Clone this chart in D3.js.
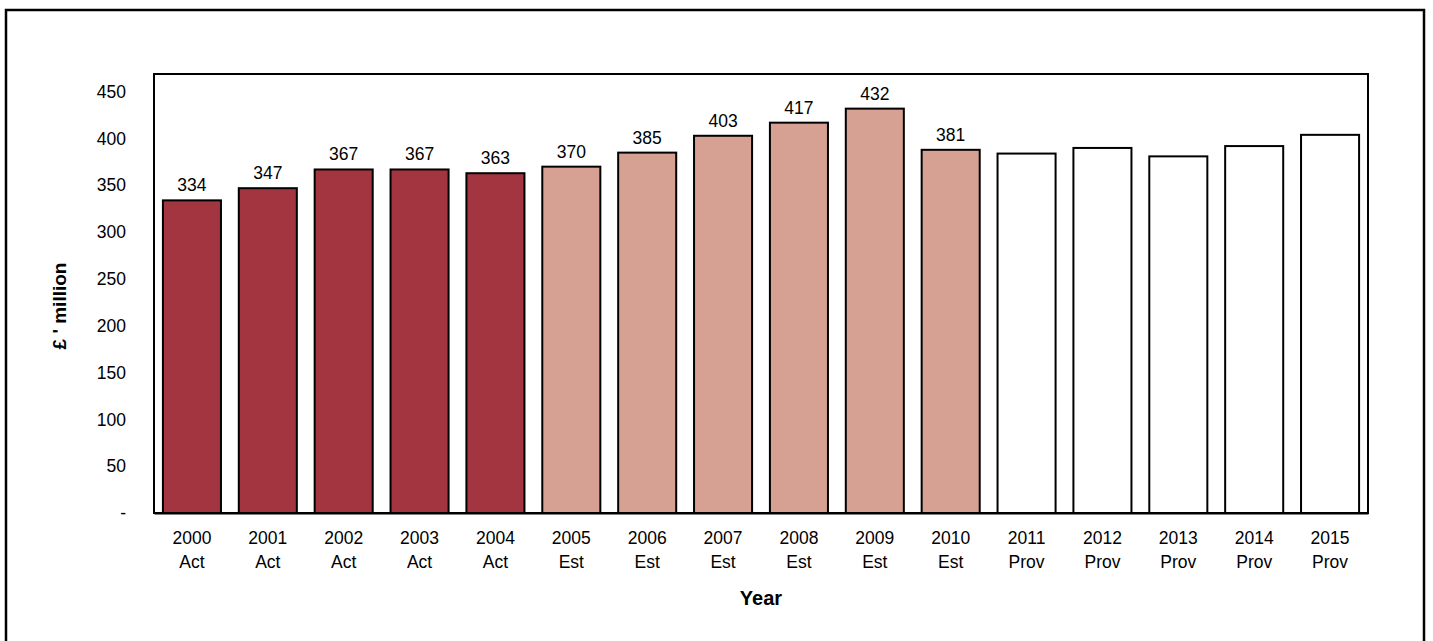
<!DOCTYPE html>
<html><head><meta charset="utf-8">
<script src="https://cdn.jsdelivr.net/npm/d3@7"></script>
<style>body{margin:0;background:#fff}svg{display:block}text{font-family:"Liberation Sans",Arial,sans-serif}</style>
</head><body>
<svg id="c" width="1433" height="641"></svg>
<script>
const years = ["2000","2001","2002","2003","2004","2005","2006","2007","2008","2009","2010","2011","2012","2013","2014","2015"];
const status = ["Act","Act","Act","Act","Act","Est","Est","Est","Est","Est","Est","Prov","Prov","Prov","Prov","Prov"];
const values = [334,347,367,367,363,370,385,403,417,432,388,384,390,381,392,404];
const valueLabels = ["334","347","367","367","363","370","385","403","417","432","381","","","","",""];
const yTicks = [0,50,100,150,200,250,300,350,400,450];
const colors = {Act:"#A33540", Est:"#D6A093", Prov:"#FFFFFF"};

(function(){
const svg = d3.select("#c");
const pL=154, pR=1368, pT=74, pB=513;
const fs = 17.5;

svg.append("rect").attr("x",6).attr("y",10).attr("width",1418).attr("height",640)
  .attr("fill","none").attr("stroke","#000").attr("stroke-width",2.5);

const x = d3.scaleBand().domain(years).range([pL,pR]).paddingInner(0.235).paddingOuter(0.1175);
const y = d3.scaleLinear().domain([0,469]).range([pB,pT]);

svg.append("rect").attr("x",pL).attr("y",pT).attr("width",pR-pL).attr("height",pB-pT)
  .attr("fill","none").attr("stroke","#000").attr("stroke-width",2);

svg.selectAll("rect.bar").data(years).enter().append("rect").attr("class","bar")
  .attr("x",d=>x(d)).attr("width",x.bandwidth())
  .attr("y",(d,i)=>y(values[i])).attr("height",(d,i)=>y(0)-y(values[i]))
  .attr("fill",(d,i)=>colors[status[i]]).attr("stroke","#000").attr("stroke-width",2);

svg.selectAll("text.vl").data(years).enter().append("text").attr("class","vl")
  .attr("x",d=>x(d)+x.bandwidth()/2).attr("y",(d,i)=>y(values[i])-9)
  .attr("text-anchor","middle").attr("font-size",fs).text((d,i)=>valueLabels[i]);

const yAxis = d3.axisLeft(y).tickValues(yTicks).tickSize(0).tickPadding(0)
  .tickFormat(d=>d===0?"-":d);
const ya = svg.append("g").attr("transform",`translate(${pL-28},0)`).call(yAxis);
ya.select(".domain").remove();
ya.selectAll("text").attr("font-size",fs).attr("fill","#000").attr("font-family","Liberation Sans, Arial, sans-serif");

const xAxis = d3.axisBottom(x).tickSize(0).tickFormat("");
const xa = svg.append("g").attr("transform",`translate(0,${pB})`).call(xAxis);
xa.select(".domain").attr("stroke","#000").attr("stroke-width",2);
xa.selectAll(".tick").each(function(d,i){
  const t = d3.select(this).append("text").attr("fill","#000").attr("font-size",fs)
    .attr("text-anchor","middle").attr("font-family","Liberation Sans, Arial, sans-serif");
  t.append("tspan").attr("x",0).attr("y",31).text(d);
  t.append("tspan").attr("x",0).attr("y",55).text(status[i]);
});

svg.append("text").attr("x",(pL+pR)/2).attr("y",605).attr("text-anchor","middle")
  .attr("font-size",20).attr("font-weight","bold").text("Year");
svg.append("text").attr("transform",`translate(66,306) rotate(-90)`)
  .attr("text-anchor","middle").attr("font-size",19).attr("font-weight","bold").text("£ ' million");
})();
</script>
</body></html>
